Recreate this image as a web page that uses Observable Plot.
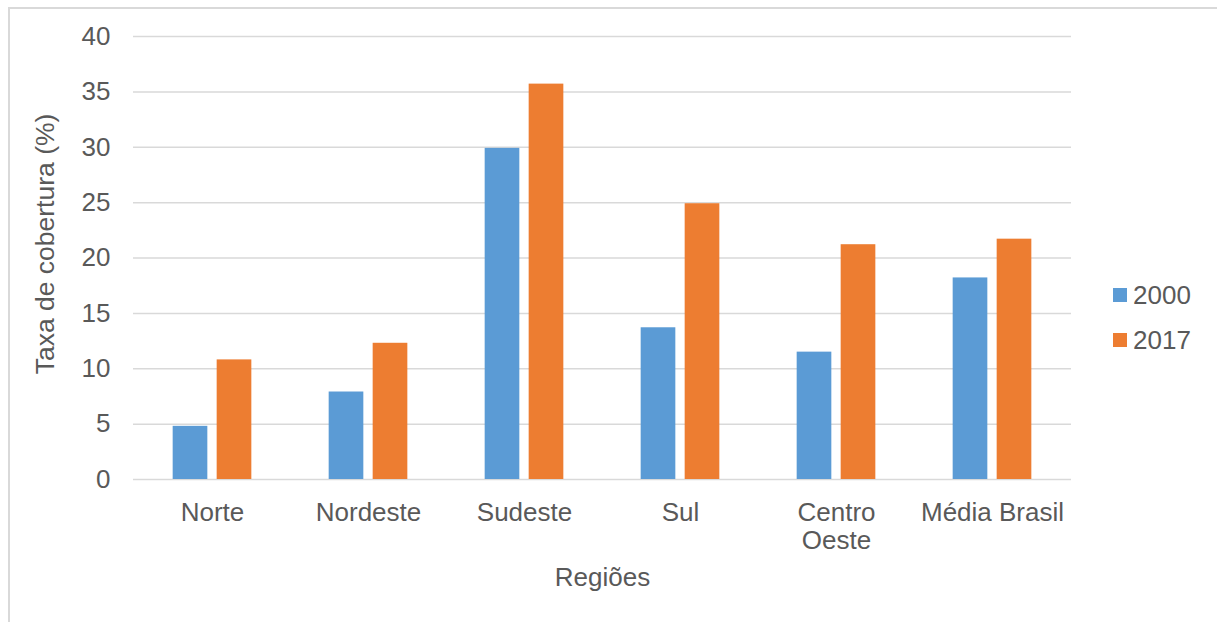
<!DOCTYPE html>
<html>
<head>
<meta charset="utf-8">
<script src="https://cdn.jsdelivr.net/npm/d3@7"></script>
<script src="https://cdn.jsdelivr.net/npm/@observablehq/plot@0.6"></script>
<style>
  body { margin: 0; background: #fff; overflow: hidden; font-family: "Liberation Sans", Arial, sans-serif; }
  #frame { position: absolute; left: 8px; top: 7px; width: 1400px; height: 800px; border: 2px solid #d9d9d9; box-sizing: border-box; }
  #chart { position: absolute; left: 0; top: 0; }
  .leg { position: absolute; left: 1113px; height: 30px; display: flex; align-items: center; font-size: 26px; line-height: 30px; color: #595959; }
  .leg .sw { width: 14px; height: 14px; margin-right: 6px; }
</style>
</head>
<body>
<div id="frame"></div>
<div id="chart"></div>
<div id="legend"></div>
<script>
const regions = ["Norte", "Nordeste", "Sudeste", "Sul", "Centro Oeste", "Média Brasil"];
const years = ["2000", "2017"];
const values2000 = [4.8, 7.9, 29.9, 13.7, 11.5, 18.2];
const values2017 = [10.8, 12.3, 35.7, 24.9, 21.2, 21.7];
const colors = ["#5B9BD5", "#ED7D31"];
const yTicks = [0, 5, 10, 15, 20, 25, 30, 35, 40];
const xLabel = "Regiões";
const yLabel = "Taxa de cobertura (%)";

const rows2000 = regions.map((r, i) => ({region: r, year: years[0], value: values2000[i]}));
const rows2017 = regions.map((r, i) => ({region: r, year: years[1], value: values2017[i]}));

const textColor = "#595959";
const inset = (938 / 6 - 35) / 2;

const plot = Plot.plot({
  width: 1217,
  height: 622,
  marginLeft: 133,
  marginRight: 146,
  marginTop: 36,
  marginBottom: 143,
  style: {fontFamily: "'Liberation Sans', Arial, sans-serif", background: "transparent", color: textColor},
  x: {domain: regions, padding: 0},
  y: {domain: [0, 40]},
  color: {domain: years, range: colors},
  marks: [
    Plot.ruleY(yTicks, {stroke: "#d9d9d9", strokeWidth: 1.5}),
    Plot.barY(rows2000, {x: "region", y: "value", fill: "year", insetLeft: inset, insetRight: inset, dx: -22}),
    Plot.barY(rows2017, {x: "region", y: "value", fill: "year", insetLeft: inset, insetRight: inset, dx: 22}),
    Plot.axisY(yTicks, {tickSize: 0, tickPadding: 23, fontSize: 26, label: null, fill: textColor}),
    Plot.axisX({tickSize: 0, tickPadding: 21, fontSize: 26, lineHeight: 1.1, label: null, fill: textColor,
      tickFormat: d => d === "Centro Oeste" ? "Centro\nOeste" : d}),
    Plot.text([xLabel], {text: d => d, frameAnchor: "bottom", dy: 106, fontSize: 26, fill: textColor, textAnchor: "middle"}),
    Plot.text([yLabel], {text: d => d, frameAnchor: "left", rotate: -90, dx: -88, dy: -14, fontSize: 26.5, fill: textColor, textAnchor: "middle"})
  ]
});
document.getElementById("chart").appendChild(plot);

const legend = document.getElementById("legend");
years.forEach((y, i) => {
  const item = document.createElement("div");
  item.className = "leg";
  item.style.top = (279.5 + i * 45) + "px";
  const sw = document.createElement("div");
  sw.className = "sw";
  sw.style.background = colors[i];
  const t = document.createElement("span");
  t.textContent = y;
  item.appendChild(sw);
  item.appendChild(t);
  legend.appendChild(item);
});
</script>
</body>
</html>
